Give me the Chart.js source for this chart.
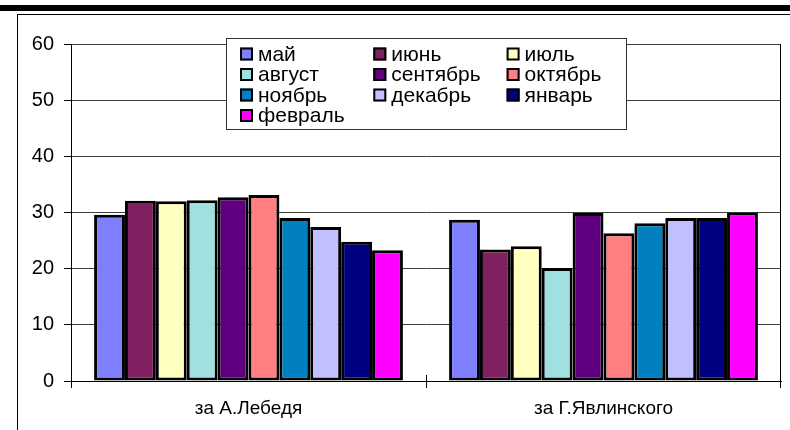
<!DOCTYPE html>
<html>
<head>
<meta charset="utf-8">
<script src="https://cdn.jsdelivr.net/npm/chart.js@4/dist/chart.umd.min.js"></script>
<style>
    html, body { margin: 0; padding: 0; background: #fff; }
    #wrap { position: relative; width: 790px; height: 430px; overflow: hidden; }
    #topbar { position: absolute; left: 0; top: 5px; width: 790px; height: 6px; background: #000; }
    #frame { position: absolute; left: 17px; top: 14px; width: 800px; height: 430px;
             border-top: 1px solid #000; border-left: 1px solid #000; }
    canvas { position: absolute; left: 0; top: 0; }
</style>
</head>
<body>
<div id="wrap">
    <div id="topbar"></div>
    <div id="frame"></div>
    <canvas id="chart" width="790" height="430"></canvas>
</div>
<script>
// categories (x axis)
const categories = ['за А.Лебедя', 'за Г.Явлинского'];

// one series per month
const months = ['май', 'июнь', 'июль', 'август', 'сентябрь', 'октябрь', 'ноябрь', 'декабрь', 'январь', 'февраль'];
const lebedValues = [29.6, 32.1, 32.0, 32.2, 32.7, 33.1, 29.0, 27.4, 24.8, 23.3];
const yavlinskyValues = [28.7, 23.4, 24.0, 20.1, 29.9, 26.3, 28.1, 29.0, 29.0, 30.0];

// y axis ticks
const yMin = 0;
const yMax = 60;
const yStep = 10;

const monthColors = ['#8080FF', '#802060', '#FFFFC0', '#A0E0E0', '#600080',
                     '#FF8080', '#0080C0', '#C0C0FF', '#000080', '#FF00FF'];

const FONT = '"Liberation Sans", Arial, sans-serif';

// x axis: cross tick marks at category edges and the right border of the plot
const plotFrame = {
    id: 'plotFrame',
    afterDraw(chart) {
        const ctx = chart.ctx;
        const area = chart.chartArea;
        const xs = chart.scales.x;
        const half = (xs.getPixelForValue(1) - xs.getPixelForValue(0)) / 2;
        ctx.save();
        ctx.fillStyle = '#000';
        for (let i = 0; i < categories.length; i++) {
            let x = Math.floor(xs.getPixelForValue(0) - half + i * half * 2);
            ctx.fillRect(x, Math.round(area.bottom) - 6, 1, 13);
        }
        // right edge of the plot area
        let xr = Math.round(area.right) - 1;
        ctx.fillRect(xr, Math.round(area.top), 1, Math.round(area.bottom - area.top) + 7);
        ctx.restore();
    }
};

// legend box in three columns, drawn inside the plot like the original
const boxLegend = {
    id: 'boxLegend',
    afterDraw(chart) {
        const ctx = chart.ctx;
        const left = 226, top = 38, width = 400, height = 91;
        ctx.save();
        ctx.fillStyle = '#fff';
        ctx.fillRect(left, top, width, height);
        ctx.strokeStyle = '#333';
        ctx.lineWidth = 1;
        ctx.strokeRect(left + 0.5, top + 0.5, width, height);
        ctx.font = '21px ' + FONT;
        ctx.textBaseline = 'middle';
        chart.data.datasets.forEach((ds, i) => {
            const col = i % 3;
            const row = Math.floor(i / 3);
            const sx = 240 + col * 133.3;
            const sy = 54 + row * 20.5;
            ctx.fillStyle = ds.backgroundColor;
            ctx.fillRect(sx, sy - 6.5, 13, 13);
            ctx.strokeStyle = '#000';
            ctx.lineWidth = 2;
            ctx.strokeRect(sx + 1, sy - 5.5, 11, 11);
            ctx.fillStyle = '#000';
            ctx.fillText(ds.label, sx + 18, sy + 1);
        });
        ctx.restore();
    }
};

const datasets = months.map((m, i) => ({
    label: m,
    data: [lebedValues[i], yavlinskyValues[i]],
    backgroundColor: monthColors[i],
    borderColor: '#000',
    borderWidth: 3,
    borderSkipped: false,
    categoryPercentage: 0.87,
    barPercentage: 1.0
}));

new Chart(document.getElementById('chart'), {
    type: 'bar',
    data: {
        labels: categories,
        datasets: datasets
    },
    options: {
        responsive: false,
        animation: false,
        devicePixelRatio: 1,
        layout: {
            padding: { top: 44, right: 9, left: 0, bottom: 0 }
        },
        plugins: {
            legend: { display: false },
            tooltip: { enabled: false }
        },
        scales: {
            y: {
                min: yMin,
                max: yMax,
                ticks: {
                    stepSize: yStep,
                    color: '#000',
                    padding: 10,
                    font: { family: FONT, size: 20 }
                },
                grid: {
                    color: '#404040',
                    tickColor: '#000',
                    tickLength: 7,
                    lineWidth: 1
                },
                border: { color: '#000', width: 1 },
                afterFit: (s) => { s.width = 71; }
            },
            x: {
                grid: { display: false },
                border: { display: true, color: '#000', width: 1 },
                ticks: {
                    color: '#000',
                    padding: 8,
                    font: { family: FONT, size: 19 }
                },
                afterFit: (s) => { s.height = 49; }
            }
        }
    },
    plugins: [plotFrame, boxLegend]
});
</script>
</body>
</html>
